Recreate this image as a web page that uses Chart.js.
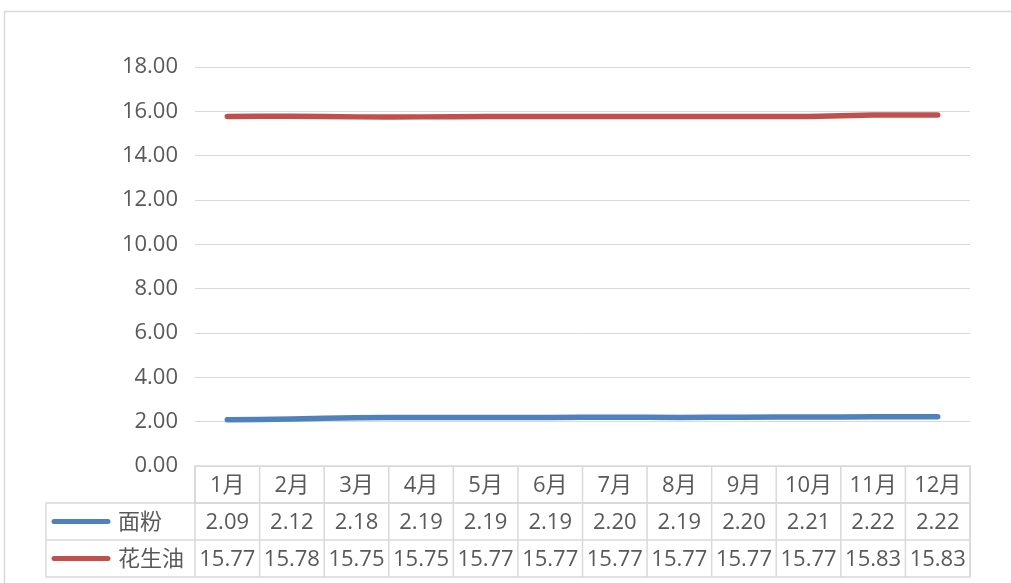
<!DOCTYPE html>
<html>
<head>
<meta charset="utf-8">
<script src="https://cdn.jsdelivr.net/npm/chart.js@4/dist/chart.umd.min.js"></script>
<style>
  html, body { margin: 0; padding: 0; background: #fff; }
  #wrap { width: 1011px; height: 583px; position: relative; }
</style>
</head>
<body>
<div id="wrap"><canvas id="chart" width="1011" height="583"></canvas></div>
<script>
const months = ['1月', '2月', '3月', '4月', '5月', '6月', '7月', '8月', '9月', '10月', '11月', '12月'];
const flour = [2.09, 2.12, 2.18, 2.19, 2.19, 2.19, 2.20, 2.19, 2.20, 2.21, 2.22, 2.22];
const peanutOil = [15.77, 15.78, 15.75, 15.75, 15.77, 15.77, 15.77, 15.77, 15.77, 15.77, 15.83, 15.83];
const seriesNames = ['面粉', '花生油'];
const yTicks = [0, 2, 4, 6, 8, 10, 12, 14, 16, 18];

const textColor = '#595959';
const gridColor = '#d9d9d9';
const font = '"Open Sans", "Noto Sans CJK SC", sans-serif';

// outer frame + data table under the plot
const tablePlugin = {
  id: 'dataTable',
  afterDraw(chart) {
    const ctx = chart.ctx;
    const area = chart.chartArea;
    const x = chart.scales.x;
    const rowH = 37;
    const legendLeft = 46;
    const top = area.bottom;
    const colW = (area.right - area.left) / months.length;

    ctx.save();
    ctx.strokeStyle = gridColor;
    ctx.lineWidth = 1.5;
    // frame
    ctx.strokeRect(4.5, 11.5, 1200, 1000);

    // header row
    ctx.strokeRect(area.left, top, area.right - area.left, rowH);
    // series rows
    ctx.strokeRect(legendLeft, top + rowH, area.right - legendLeft, rowH * 2);
    ctx.beginPath();
    ctx.moveTo(legendLeft, top + rowH * 2);
    ctx.lineTo(area.right, top + rowH * 2);
    for (let i = 0; i <= months.length; i++) {
      const cx = area.left + i * colW;
      ctx.moveTo(cx, top);
      ctx.lineTo(cx, top + rowH * 3);
    }
    ctx.stroke();

    ctx.fillStyle = textColor;
    ctx.font = '22px ' + font;
    ctx.textAlign = 'center';
    ctx.textBaseline = 'middle';
    months.forEach((m, i) => {
      ctx.fillText(m, x.getPixelForValue(i), top + rowH / 2 + 1);
    });

    chart.data.datasets.forEach((ds, r) => {
      const cy = top + rowH * (r + 1) + rowH / 2 + 1;
      ds.data.forEach((v, i) => {
        ctx.fillText(v.toFixed(2), x.getPixelForValue(i), cy);
      });
      // legend key
      ctx.strokeStyle = ds.borderColor;
      ctx.lineWidth = 5;
      ctx.lineCap = 'round';
      ctx.beginPath();
      ctx.moveTo(54, cy - 1);
      ctx.lineTo(108, cy - 1);
      ctx.stroke();
      ctx.textAlign = 'left';
      ctx.fillText(seriesNames[r], 118, cy);
      ctx.textAlign = 'center';
    });
    ctx.restore();
  }
};

new Chart(document.getElementById('chart'), {
  type: 'line',
  data: {
    labels: months,
    datasets: [
      {
        label: seriesNames[0],
        data: flour,
        borderColor: '#4F81BD',
        backgroundColor: '#4F81BD',
        borderWidth: 5.5,
        borderCapStyle: 'round',
        pointRadius: 0,
        tension: 0.3
      },
      {
        label: seriesNames[1],
        data: peanutOil,
        borderColor: '#C0504D',
        backgroundColor: '#C0504D',
        borderWidth: 5.5,
        borderCapStyle: 'round',
        pointRadius: 0,
        tension: 0.3
      }
    ]
  },
  options: {
    responsive: false,
    animation: false,
    devicePixelRatio: 1,
    layout: { padding: { top: 67, bottom: 117, right: 41, left: 0 } },
    plugins: { legend: { display: false }, tooltip: { enabled: false } },
    scales: {
      x: { display: false, offset: true },
      y: {
        min: 0,
        max: 18,
        afterBuildTicks(scale) { scale.ticks = yTicks.map(v => ({ value: v })); },
        afterFit(scale) { scale.width = 195; },
        border: { display: false },
        grid: { color: gridColor, lineWidth: 1, drawTicks: false },
        ticks: {
          padding: 17,
          color: textColor,
          font: { size: 22, family: font },
          callback: v => v.toFixed(2)
        }
      }
    }
  },
  plugins: [tablePlugin]
});
</script>
</body>
</html>
